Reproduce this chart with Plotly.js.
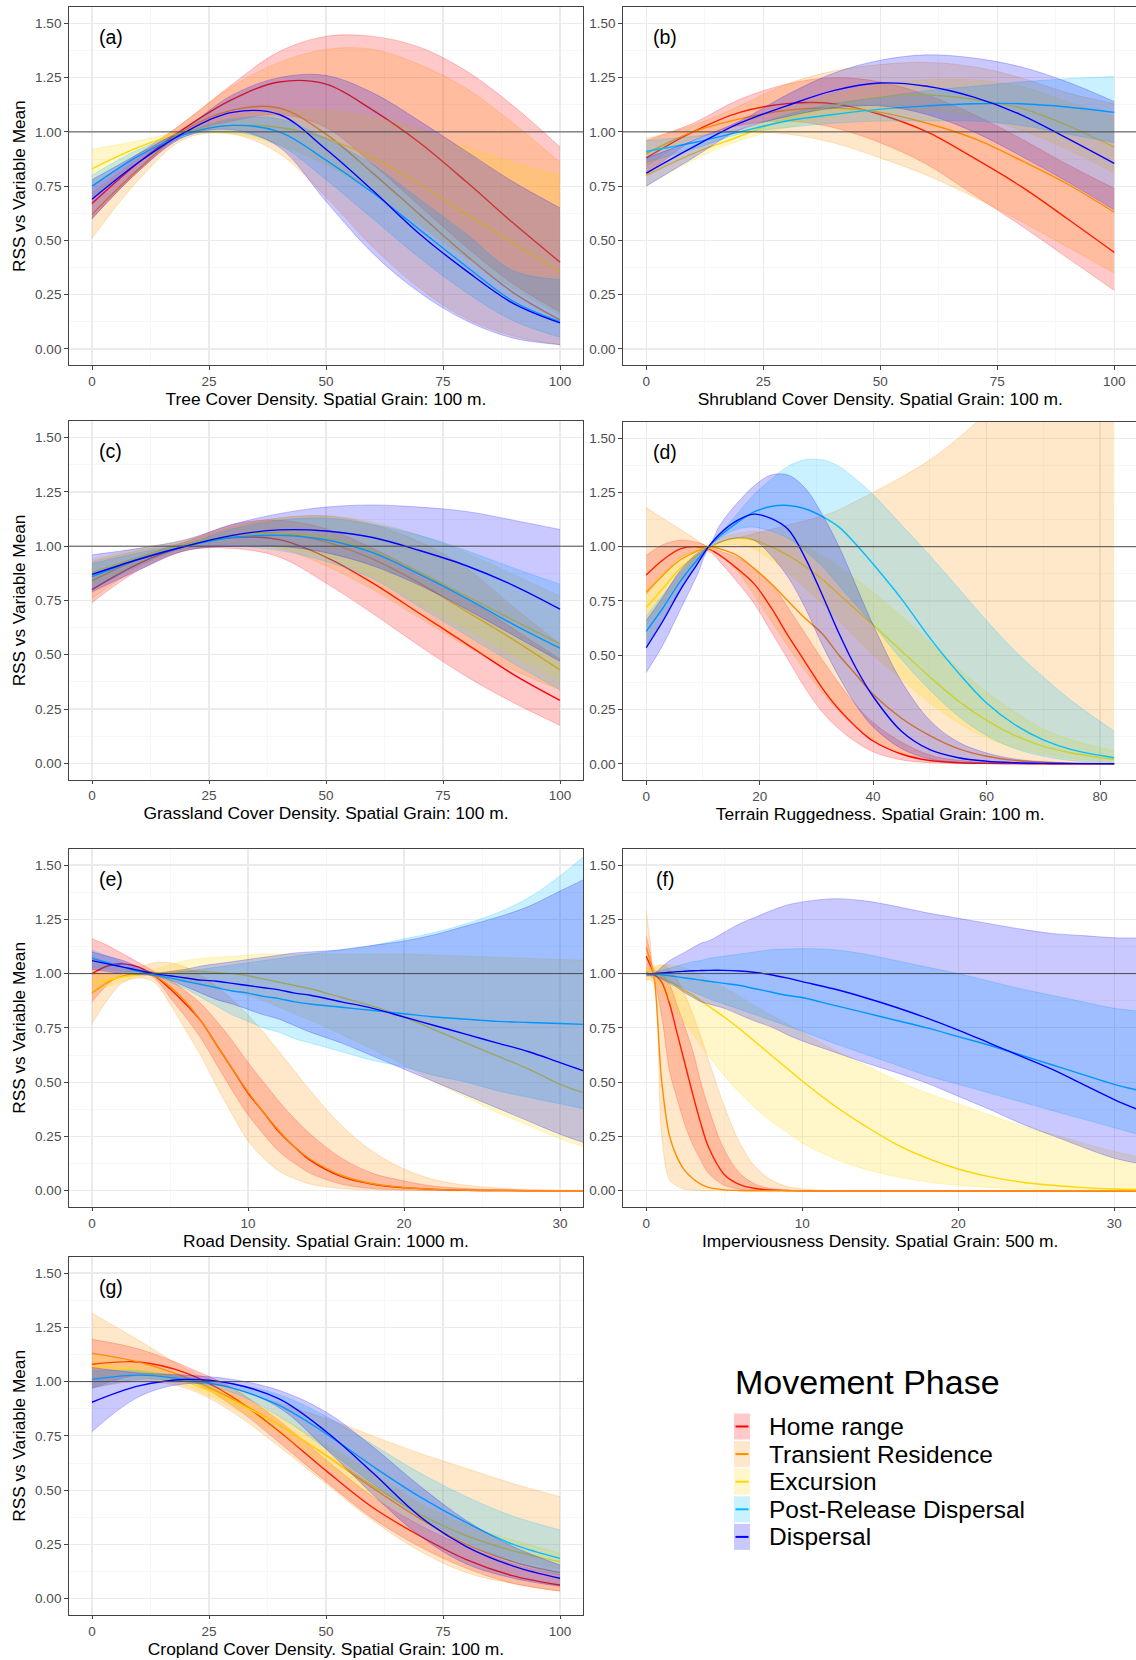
<!DOCTYPE html>
<html>
<head>
<meta charset="utf-8">
<script src="https://cdn.plot.ly/plotly-3.0.1.min.js"></script>
<style>
html,body{margin:0;padding:0;overflow:hidden;background:#fff;}
#chart{width:1140px;height:1660px;}
</style>
</head>
<body>
<div id="chart"></div>
<script>
// ---------------- DATA ----------------
const phaseNames = ['Home range','Transient Residence','Excursion','Post-Release Dispersal','Dispersal'];
const phaseColors = ['#FF0000','#FF8C00','#FFD700','#00BFFF','#0000FF'];
const panelLabels = ['(a)','(b)','(c)','(d)','(e)','(f)','(g)'];
const xTitles = [
  'Tree Cover Density. Spatial Grain: 100 m.',
  'Shrubland Cover Density. Spatial Grain: 100 m.',
  'Grassland Cover Density. Spatial Grain: 100 m.',
  'Terrain Ruggedness. Spatial Grain: 100 m.',
  'Road Density. Spatial Grain: 1000 m.',
  'Imperviousness Density. Spatial Grain: 500 m.',
  'Cropland Cover Density. Spatial Grain: 100 m.'
];
const yTitle = 'RSS vs Variable Mean';
const legendTitle = 'Movement Phase';

// (a) Tree cover
const a_x = [0,10,20,30,40,50,60,70,80,90,100];
const a_HR_mid = [0.67,0.86,1.02,1.15,1.23,1.22,1.10,0.95,0.77,0.58,0.40];
const a_HR_lo  = [0.60,0.82,0.99,1.05,1.08,1.02,0.85,0.66,0.47,0.30,0.17];
const a_HR_hi  = [0.75,0.90,1.05,1.22,1.37,1.44,1.44,1.39,1.28,1.12,0.93];
const a_TR_mid = [0.62,0.83,1.01,1.10,1.11,0.99,0.81,0.62,0.43,0.26,0.134];
const a_TR_lo  = [0.51,0.78,0.97,0.99,0.90,0.70,0.47,0.28,0.14,0.06,0.02];
const a_TR_hi  = [0.72,0.88,1.05,1.21,1.32,1.38,1.38,1.31,1.20,1.04,0.86];
const a_EX_mid = [0.83,0.93,1.00,1.03,1.02,0.97,0.88,0.76,0.62,0.49,0.355];
const a_EX_lo  = [0.74,0.90,0.99,0.99,0.94,0.85,0.72,0.57,0.42,0.28,0.157];
const a_EX_hi  = [0.92,0.96,1.01,1.07,1.10,1.10,1.07,1.01,0.93,0.86,0.80];
const a_PR_mid = [0.75,0.89,0.99,1.03,1.00,0.87,0.72,0.55,0.38,0.22,0.126];
const a_PR_lo  = [0.70,0.86,0.98,1.00,0.94,0.78,0.60,0.42,0.26,0.13,0.054];
const a_PR_hi  = [0.80,0.92,1.00,1.06,1.06,0.97,0.85,0.69,0.53,0.36,0.32];
const a_DI_mid = [0.69,0.86,1.00,1.09,1.08,0.92,0.73,0.53,0.36,0.21,0.12];
const a_DI_lo  = [0.60,0.82,0.98,1.01,0.93,0.68,0.44,0.26,0.13,0.05,0.02];
const a_DI_hi  = [0.78,0.90,1.02,1.17,1.25,1.26,1.18,1.05,0.91,0.77,0.65];

// (b) Shrubland cover
const b_x = [0,10,20,30,40,50,60,70,80,90,100];
const b_HR_mid = [0.88,1.00,1.09,1.13,1.13,1.08,1.00,0.88,0.75,0.60,0.445];
const b_HR_lo  = [0.80,0.96,1.03,1.05,1.02,0.95,0.85,0.71,0.57,0.42,0.27];
const b_HR_hi  = [0.96,1.04,1.15,1.22,1.25,1.23,1.17,1.08,0.97,0.85,0.74];
const b_TR_mid = [0.90,1.00,1.06,1.10,1.11,1.09,1.04,0.97,0.87,0.76,0.63];
const b_TR_lo  = [0.84,0.97,1.00,0.99,0.95,0.88,0.80,0.70,0.59,0.47,0.35];
const b_TR_hi  = [0.97,1.03,1.12,1.22,1.28,1.31,1.32,1.30,1.25,1.18,1.13];
const b_EX_mid = [0.80,0.90,0.98,1.06,1.12,1.16,1.17,1.15,1.11,1.03,0.93];
const b_EX_lo  = [0.75,0.87,0.96,1.02,1.07,1.10,1.10,1.07,1.01,0.92,0.81];
const b_EX_hi  = [0.86,0.93,1.00,1.10,1.17,1.22,1.24,1.24,1.21,1.14,1.07];
const b_PR_mid = [0.91,0.95,1.00,1.05,1.08,1.105,1.12,1.13,1.13,1.115,1.09];
const b_PR_lo  = [0.86,0.92,0.99,1.02,1.04,1.05,1.05,1.05,1.03,0.99,0.95];
const b_PR_hi  = [0.96,0.98,1.01,1.08,1.13,1.16,1.19,1.21,1.23,1.245,1.255];
const b_DI_mid = [0.81,0.93,1.04,1.12,1.19,1.225,1.21,1.16,1.08,0.97,0.855];
const b_DI_lo  = [0.75,0.88,1.01,1.07,1.11,1.12,1.08,1.00,0.89,0.77,0.64];
const b_DI_hi  = [0.88,0.96,1.05,1.17,1.27,1.33,1.355,1.34,1.30,1.23,1.14];

// (c) Grassland cover
const c_x = [0,10,20,30,40,50,60,70,80,90,100];
const c_HR_mid = [0.80,0.92,1.00,1.04,1.03,0.95,0.83,0.69,0.55,0.41,0.29];
const c_HR_lo  = [0.74,0.89,0.98,0.99,0.95,0.83,0.69,0.54,0.40,0.28,0.175];
const c_HR_hi  = [0.87,0.95,1.02,1.10,1.12,1.08,0.99,0.88,0.76,0.62,0.48];
const c_TR_mid = [0.84,0.94,1.00,1.05,1.06,1.02,0.94,0.83,0.70,0.57,0.43];
const c_TR_lo  = [0.76,0.90,0.98,1.01,0.99,0.91,0.80,0.67,0.54,0.43,0.338];
const c_TR_hi  = [0.93,0.98,1.02,1.09,1.13,1.14,1.10,1.02,0.90,0.72,0.55];
const c_EX_mid = [0.88,0.95,1.01,1.05,1.06,1.04,0.98,0.88,0.77,0.66,0.55];
const c_EX_lo  = [0.82,0.91,0.99,1.01,0.99,0.95,0.86,0.74,0.62,0.50,0.39];
const c_EX_hi  = [0.94,0.99,1.03,1.09,1.13,1.14,1.11,1.05,0.97,0.87,0.77];
const c_PR_mid = [0.86,0.94,1.00,1.04,1.05,1.03,0.97,0.87,0.76,0.64,0.53];
const c_PR_lo  = [0.80,0.91,0.99,1.00,0.98,0.93,0.85,0.72,0.59,0.46,0.34];
const c_PR_hi  = [0.92,0.97,1.01,1.08,1.12,1.13,1.10,1.05,0.98,0.90,0.825];
const c_DI_mid = [0.87,0.94,1.00,1.05,1.075,1.07,1.04,0.98,0.91,0.82,0.71];
const c_DI_lo  = [0.79,0.89,0.98,1.00,1.00,0.97,0.91,0.82,0.71,0.59,0.47];
const c_DI_hi  = [0.96,0.99,1.03,1.10,1.15,1.18,1.19,1.18,1.16,1.12,1.077];

// (d) Terrain ruggedness
const d_x = [0,3,6,9,11,13,16,19,22,25,28,31,34,37,40,45,50,55,60,65,70,75,82.5];
const d_HR_mid = [0.87,0.94,0.99,1.00,0.99,0.96,0.90,0.83,0.72,0.59,0.47,0.35,0.25,0.17,0.105,0.045,0.015,0.005,0.002,0.001,0,0,0];
const d_HR_lo  = [0.78,0.87,0.95,0.98,0.98,0.93,0.84,0.74,0.61,0.48,0.35,0.24,0.16,0.10,0.055,0.018,0.005,0.001,0,0,0,0,0];
const d_HR_hi  = [0.96,1.01,1.03,1.02,1.00,0.98,0.95,0.90,0.83,0.72,0.60,0.48,0.37,0.27,0.19,0.10,0.04,0.016,0.006,0.002,0.001,0,0];
const d_TR_mid = [0.79,0.87,0.94,0.98,1.00,0.99,0.96,0.90,0.83,0.75,0.67,0.60,0.50,0.41,0.32,0.21,0.13,0.07,0.035,0.016,0.007,0.003,0.001];
const d_TR_lo  = [0.53,0.67,0.81,0.93,0.99,0.96,0.89,0.78,0.66,0.54,0.43,0.33,0.24,0.17,0.11,0.05,0.02,0.007,0.002,0.001,0,0,0];
const d_TR_hi  = [1.18,1.13,1.08,1.03,1.00,1.02,1.04,1.06,1.08,1.10,1.12,1.14,1.17,1.21,1.25,1.32,1.40,1.50,1.62,1.78,1.96,2.15,2.50];
const d_EX_mid = [0.72,0.81,0.90,0.96,0.99,1.02,1.04,1.03,1.00,0.96,0.91,0.85,0.78,0.71,0.64,0.52,0.40,0.29,0.20,0.13,0.08,0.05,0.02];
const d_EX_lo  = [0.64,0.74,0.85,0.93,0.97,1.00,1.01,0.99,0.94,0.88,0.81,0.74,0.66,0.58,0.50,0.39,0.28,0.19,0.12,0.075,0.045,0.025,0.008];
const d_EX_hi  = [0.80,0.88,0.95,0.99,1.01,1.04,1.06,1.07,1.06,1.04,1.00,0.96,0.91,0.85,0.79,0.68,0.56,0.44,0.33,0.24,0.16,0.11,0.06];
const d_PR_mid = [0.61,0.72,0.84,0.94,1.00,1.05,1.11,1.16,1.185,1.19,1.175,1.14,1.09,1.01,0.92,0.76,0.58,0.42,0.28,0.18,0.11,0.065,0.028];
const d_PR_lo  = [0.55,0.66,0.80,0.92,1.00,1.04,1.08,1.09,1.07,1.04,0.98,0.91,0.82,0.73,0.64,0.48,0.34,0.22,0.13,0.07,0.035,0.015,0.005];
const d_PR_hi  = [0.68,0.78,0.88,0.96,1.00,1.06,1.15,1.24,1.31,1.37,1.40,1.40,1.37,1.31,1.24,1.10,0.96,0.81,0.66,0.52,0.40,0.29,0.15];
const d_DI_mid = [0.535,0.66,0.80,0.92,1.00,1.06,1.12,1.15,1.13,1.08,0.95,0.78,0.60,0.44,0.31,0.15,0.065,0.028,0.012,0.005,0.002,0.001,0];
const d_DI_lo  = [0.42,0.55,0.71,0.87,0.99,1.02,1.04,1.03,0.96,0.86,0.72,0.55,0.40,0.27,0.17,0.07,0.022,0.007,0.002,0.001,0,0,0];
const d_DI_hi  = [0.66,0.77,0.89,0.97,1.00,1.10,1.20,1.28,1.33,1.33,1.27,1.15,1.00,0.82,0.64,0.38,0.20,0.10,0.05,0.022,0.01,0.004,0.001];

// (e) Road density
const e_x = [0,1,2,3,4,5,6,7,8,9,10,11,12,13,14,16,18,20,22,24,26,28,30,32];
const e_HR_mid = [1.00,1.035,1.045,1.03,0.99,0.93,0.86,0.78,0.67,0.56,0.45,0.36,0.27,0.20,0.14,0.065,0.03,0.014,0.006,0.002,0.001,0,0,0];
const e_HR_lo  = [0.87,0.95,1.00,1.01,0.98,0.89,0.80,0.70,0.58,0.46,0.35,0.26,0.18,0.125,0.08,0.03,0.01,0.004,0.001,0,0,0,0,0];
const e_HR_hi  = [1.16,1.13,1.09,1.05,1.01,0.97,0.92,0.86,0.78,0.69,0.59,0.50,0.41,0.33,0.26,0.15,0.08,0.045,0.02,0.01,0.004,0.002,0.001,0];
const e_TR_mid = [0.91,0.96,0.99,1.00,0.99,0.94,0.87,0.78,0.67,0.56,0.455,0.36,0.275,0.20,0.145,0.07,0.032,0.015,0.006,0.002,0.001,0,0,0];
const e_TR_lo  = [0.77,0.88,0.96,0.98,0.96,0.86,0.74,0.62,0.48,0.35,0.23,0.15,0.09,0.055,0.03,0.01,0.003,0.001,0,0,0,0,0,0];
const e_TR_hi  = [1.08,1.05,1.03,1.03,1.05,1.05,1.03,0.99,0.94,0.88,0.81,0.73,0.64,0.55,0.46,0.30,0.18,0.10,0.05,0.025,0.012,0.006,0.003,0.001];
const e_EX_mid = [0.955,0.97,0.985,0.995,1.00,1.005,1.01,1.01,1.005,1.00,0.99,0.975,0.96,0.945,0.93,0.89,0.85,0.80,0.74,0.68,0.62,0.56,0.49,0.44];
const e_EX_lo  = [0.91,0.94,0.965,0.985,0.99,0.97,0.96,0.95,0.94,0.92,0.90,0.875,0.845,0.815,0.785,0.72,0.65,0.58,0.50,0.43,0.36,0.30,0.24,0.19];
const e_EX_hi  = [1.00,1.00,1.005,1.01,1.02,1.04,1.06,1.07,1.075,1.08,1.085,1.09,1.09,1.09,1.09,1.09,1.09,1.09,1.085,1.08,1.075,1.07,1.065,1.06];
const e_PR_mid = [1.07,1.05,1.03,1.01,0.995,0.98,0.965,0.95,0.935,0.92,0.91,0.895,0.885,0.87,0.86,0.845,0.83,0.815,0.80,0.79,0.78,0.775,0.77,0.765];
const e_PR_lo  = [1.03,1.02,1.01,1.00,0.99,0.96,0.93,0.89,0.85,0.81,0.78,0.75,0.73,0.70,0.68,0.64,0.60,0.57,0.53,0.50,0.46,0.43,0.40,0.37];
const e_PR_hi  = [1.11,1.08,1.05,1.02,1.00,1.00,1.01,1.02,1.03,1.04,1.05,1.06,1.07,1.08,1.09,1.11,1.13,1.16,1.19,1.23,1.28,1.35,1.45,1.57];
const e_DI_mid = [1.06,1.045,1.03,1.015,1.00,0.99,0.98,0.97,0.965,0.955,0.945,0.935,0.925,0.91,0.90,0.87,0.84,0.80,0.76,0.72,0.68,0.64,0.59,0.54];
const e_DI_lo  = [1.02,1.01,1.00,0.995,0.99,0.97,0.94,0.91,0.88,0.86,0.835,0.81,0.79,0.76,0.73,0.68,0.62,0.56,0.50,0.44,0.38,0.32,0.26,0.21];
const e_DI_hi  = [1.10,1.08,1.06,1.03,1.005,1.01,1.02,1.035,1.045,1.055,1.065,1.075,1.085,1.095,1.10,1.11,1.13,1.15,1.18,1.22,1.26,1.31,1.38,1.45];

// (f) Imperviousness density
const f_x = [0,0.25,0.5,1,1.5,2,2.5,3,3.5,4,5,6,7,8,9,10,12,14,16,18,20,22,24,26,28,30,32];
const f_HR_mid = [1.08,1.04,1.00,0.96,0.86,0.72,0.58,0.44,0.31,0.20,0.075,0.028,0.01,0.003,0.001,0,0,0,0,0,0,0,0,0,0,0,0];
const f_HR_lo  = [0.99,0.99,0.97,0.80,0.55,0.42,0.30,0.21,0.14,0.08,0.025,0.007,0.002,0,0,0,0,0,0,0,0,0,0,0,0,0,0];
const f_HR_hi  = [1.17,1.10,1.02,1.00,0.95,0.85,0.75,0.64,0.50,0.38,0.19,0.08,0.03,0.01,0.003,0.001,0,0,0,0,0,0,0,0,0,0,0];
const f_TR_mid = [1.12,1.06,0.99,0.50,0.25,0.15,0.09,0.055,0.03,0.015,0.004,0.001,0,0,0,0,0,0,0,0,0,0,0,0,0,0,0];
const f_TR_lo  = [0.97,0.97,0.95,0.25,0.05,0.02,0.006,0.002,0,0,0,0,0,0,0,0,0,0,0,0,0,0,0,0,0,0,0];
const f_TR_hi  = [1.29,1.15,1.03,1.04,1.02,0.97,0.90,0.81,0.71,0.60,0.39,0.22,0.11,0.05,0.02,0.008,0.001,0,0,0,0,0,0,0,0,0,0];
const f_EX_mid = [1.01,1.005,1.00,0.985,0.965,0.945,0.92,0.90,0.875,0.85,0.80,0.745,0.685,0.625,0.565,0.505,0.395,0.30,0.215,0.15,0.10,0.065,0.04,0.025,0.014,0.008,0.005];
const f_EX_lo  = [0.97,0.98,0.97,0.92,0.87,0.82,0.77,0.72,0.67,0.62,0.53,0.45,0.38,0.32,0.27,0.22,0.15,0.10,0.065,0.04,0.025,0.015,0.009,0.005,0.003,0.002,0.001];
const f_EX_hi  = [1.02,1.03,1.035,1.04,1.04,1.035,1.025,1.01,0.99,0.97,0.935,0.895,0.85,0.81,0.77,0.73,0.65,0.58,0.51,0.45,0.40,0.35,0.30,0.26,0.22,0.18,0.15];
const f_PR_mid = [1.00,1.00,1.00,0.995,0.99,0.985,0.98,0.975,0.97,0.965,0.955,0.945,0.93,0.915,0.90,0.89,0.855,0.82,0.785,0.75,0.71,0.67,0.625,0.58,0.535,0.49,0.455];
const f_PR_lo  = [1.00,0.995,0.99,0.975,0.96,0.945,0.93,0.915,0.90,0.885,0.86,0.835,0.81,0.785,0.76,0.735,0.68,0.63,0.58,0.53,0.49,0.45,0.41,0.37,0.33,0.29,0.25];
const f_PR_hi  = [1.00,1.00,1.005,1.015,1.025,1.035,1.045,1.055,1.06,1.07,1.08,1.09,1.10,1.11,1.113,1.115,1.11,1.09,1.06,1.03,1.00,0.965,0.93,0.90,0.87,0.84,0.825];
const f_DI_mid = [1.00,1.00,1.00,1.003,1.006,1.009,1.011,1.013,1.014,1.015,1.015,1.012,1.005,0.995,0.98,0.963,0.93,0.89,0.845,0.795,0.74,0.68,0.62,0.56,0.49,0.42,0.36];
const f_DI_lo  = [0.99,0.99,0.99,0.975,0.955,0.935,0.91,0.89,0.87,0.86,0.84,0.81,0.78,0.755,0.72,0.69,0.64,0.59,0.545,0.495,0.435,0.375,0.31,0.255,0.20,0.15,0.12];
const f_DI_hi  = [1.01,1.00,1.00,1.03,1.06,1.08,1.10,1.12,1.14,1.15,1.19,1.23,1.26,1.29,1.315,1.33,1.345,1.335,1.31,1.28,1.255,1.23,1.205,1.185,1.175,1.165,1.165];

// (g) Cropland cover
const g_x = [0,10,20,30,40,50,60,70,80,90,100];
const g_HR_mid = [1.08,1.09,1.04,0.93,0.77,0.59,0.42,0.29,0.18,0.105,0.063];
const g_HR_lo  = [0.97,1.03,1.01,0.89,0.72,0.54,0.37,0.24,0.14,0.07,0.035];
const g_HR_hi  = [1.195,1.15,1.07,0.97,0.82,0.64,0.47,0.34,0.24,0.16,0.11];
const g_TR_mid = [1.13,1.09,1.02,0.92,0.80,0.66,0.51,0.37,0.25,0.17,0.12];
const g_TR_lo  = [0.97,1.00,0.97,0.86,0.70,0.53,0.36,0.22,0.12,0.07,0.035];
const g_TR_hi  = [1.315,1.19,1.06,0.97,0.90,0.83,0.75,0.67,0.60,0.53,0.47];
const g_EX_mid = [1.07,1.05,1.00,0.91,0.80,0.66,0.52,0.39,0.29,0.22,0.17];
const g_EX_lo  = [1.02,1.02,0.98,0.88,0.76,0.61,0.47,0.35,0.25,0.18,0.138];
const g_EX_hi  = [1.12,1.08,1.02,0.94,0.84,0.71,0.58,0.44,0.34,0.27,0.21];
const g_PR_mid = [1.01,1.03,1.01,0.97,0.89,0.76,0.61,0.47,0.35,0.25,0.186];
const g_PR_lo  = [0.97,1.01,1.00,0.95,0.84,0.69,0.53,0.38,0.26,0.17,0.11];
const g_PR_hi  = [1.05,1.05,1.02,0.99,0.94,0.84,0.71,0.58,0.47,0.38,0.317];
const g_DI_mid = [0.905,0.98,1.01,0.99,0.92,0.77,0.58,0.38,0.24,0.15,0.094];
const g_DI_lo  = [0.77,0.93,0.99,0.97,0.88,0.69,0.48,0.29,0.16,0.094,0.057];
const g_DI_hi  = [1.065,1.04,1.03,1.01,0.96,0.86,0.70,0.52,0.36,0.24,0.155];

// ---------------- TABLE FOR THE LIBRARY ----------------
const W = 1140, H = 1660;
const FONT = 'Liberation Sans, Arial, Helvetica, sans-serif';
const YPX = 217.1;               // pixels per y unit
const COLS = [[68.6, 583.4], [622.8, 1137.6]];

const panels = [
  {x:a_x, s:[[a_HR_lo,a_HR_mid,a_HR_hi],[a_TR_lo,a_TR_mid,a_TR_hi],[a_EX_lo,a_EX_mid,a_EX_hi],[a_PR_lo,a_PR_mid,a_PR_hi],[a_DI_lo,a_DI_mid,a_DI_hi]], col:0, zeroPx:349.0, range:[-5,105], dtick:25},
  {x:b_x, s:[[b_HR_lo,b_HR_mid,b_HR_hi],[b_TR_lo,b_TR_mid,b_TR_hi],[b_EX_lo,b_EX_mid,b_EX_hi],[b_PR_lo,b_PR_mid,b_PR_hi],[b_DI_lo,b_DI_mid,b_DI_hi]], col:1, zeroPx:349.0, range:[-5,105], dtick:25},
  {x:c_x, s:[[c_HR_lo,c_HR_mid,c_HR_hi],[c_TR_lo,c_TR_mid,c_TR_hi],[c_EX_lo,c_EX_mid,c_EX_hi],[c_PR_lo,c_PR_mid,c_PR_hi],[c_DI_lo,c_DI_mid,c_DI_hi]], col:0, zeroPx:763.3, range:[-5,105], dtick:25},
  {x:d_x, s:[[d_HR_lo,d_HR_mid,d_HR_hi],[d_TR_lo,d_TR_mid,d_TR_hi],[d_EX_lo,d_EX_mid,d_EX_hi],[d_PR_lo,d_PR_mid,d_PR_hi],[d_DI_lo,d_DI_mid,d_DI_hi]], col:1, zeroPx:763.8, range:[-4.125,86.625], dtick:20},
  {x:e_x, s:[[e_HR_lo,e_HR_mid,e_HR_hi],[e_TR_lo,e_TR_mid,e_TR_hi],[e_EX_lo,e_EX_mid,e_EX_hi],[e_PR_lo,e_PR_mid,e_PR_hi],[e_DI_lo,e_DI_mid,e_DI_hi]], col:0, zeroPx:1190.7, range:[-1.5,31.5], dtick:10},
  {x:f_x, s:[[f_HR_lo,f_HR_mid,f_HR_hi],[f_TR_lo,f_TR_mid,f_TR_hi],[f_EX_lo,f_EX_mid,f_EX_hi],[f_PR_lo,f_PR_mid,f_PR_hi],[f_DI_lo,f_DI_mid,f_DI_hi]], col:1, zeroPx:1190.7, range:[-1.5,31.5], dtick:10},
  {x:g_x, s:[[g_HR_lo,g_HR_mid,g_HR_hi],[g_TR_lo,g_TR_mid,g_TR_hi],[g_EX_lo,g_EX_mid,g_EX_hi],[g_PR_lo,g_PR_mid,g_PR_hi],[g_DI_lo,g_DI_mid,g_DI_hi]], col:0, zeroPx:1598.7, range:[-5,105], dtick:25}
];

function rgba(hex, a) {
  const n = parseInt(hex.slice(1), 16);
  return 'rgba(' + ((n >> 16) & 255) + ',' + ((n >> 8) & 255) + ',' + (n & 255) + ',' + a + ')';
}

const traces = [];
const layout = {
  width: W, height: H,
  margin: {l:0, r:0, t:0, b:0},
  paper_bgcolor: '#ffffff', plot_bgcolor: '#ffffff',
  showlegend: false,
  font: {family: FONT, color: '#000'},
  shapes: [], annotations: []
};

panels.forEach((p, i) => {
  const sfx = i === 0 ? '' : String(i + 1);
  const xa = 'x' + sfx, ya = 'y' + sfx;
  const topPx = p.zeroPx - 1.575 * YPX, botPx = p.zeroPx + 0.075 * YPX;
  const colPx = COLS[p.col];

  p.s.forEach((trip, j) => {
    const col = phaseColors[j];
    const edge = {color: rgba(col, 0.45), width: 0.5, shape: 'spline', smoothing: 1};
    traces.push({x: p.x, y: trip[0], xaxis: xa, yaxis: ya, type: 'scatter', mode: 'lines',
      line: edge, hoverinfo: 'skip', showlegend: false, name: phaseNames[j] + ' lower'});
    traces.push({x: p.x, y: trip[2], xaxis: xa, yaxis: ya, type: 'scatter', mode: 'lines',
      line: edge, fill: 'tonexty', fillcolor: rgba(col, 0.21), hoverinfo: 'skip', showlegend: false,
      name: phaseNames[j] + ' upper'});
    traces.push({x: p.x, y: trip[1], xaxis: xa, yaxis: ya, type: 'scatter', mode: 'lines',
      line: {color: col, width: 1.4, shape: 'spline', smoothing: 1}, name: phaseNames[j], showlegend: false});
  });

  const common = {
    showline: true, mirror: true, linecolor: '#444444', linewidth: 1,
    ticks: 'outside', ticklen: 3.5, tickcolor: '#444444', tickwidth: 1,
    showgrid: true, gridcolor: '#ebebeb', gridwidth: 1.2, zeroline: false,
    tickfont: {family: FONT, size: 13.5, color: '#4d4d4d'}, fixedrange: true
  };
  layout['xaxis' + sfx] = Object.assign({}, common, {
    domain: [colPx[0] / W, colPx[1] / W], range: p.range, anchor: ya,
    tickmode: 'linear', tick0: 0, dtick: p.dtick,
    minor: {tickmode: 'linear', tick0: p.dtick / 2, dtick: p.dtick, showgrid: true, gridcolor: '#f2f2f2', gridwidth: 0.6},
    title: {text: xTitles[i], font: {family: FONT, size: 17.4, color: '#000'}, standoff: 2}
  });
  const yax = Object.assign({}, common, {
    domain: [1 - botPx / H, 1 - topPx / H], range: [-0.075, 1.575], anchor: xa,
    tickmode: 'linear', tick0: 0, dtick: 0.25, tickformat: '.2f',
    minor: {tickmode: 'linear', tick0: 0.125, dtick: 0.25, showgrid: true, gridcolor: '#f2f2f2', gridwidth: 0.6}
  });
  if (p.col === 0) yax.title = {text: yTitle, font: {family: FONT, size: 17.2, color: '#000'}, standoff: 5};
  layout['yaxis' + sfx] = yax;

  layout.shapes.push({type: 'line', xref: xa + ' domain', yref: ya, x0: 0, x1: 1, y0: 1, y1: 1,
    line: {color: '#4a4a4a', width: 1}, layer: 'above'});
  layout.annotations.push({text: panelLabels[i], xref: xa + ' domain', yref: ya + ' domain',
    x: 42 / 514.8, y: 1 - 30 / 358.2, xanchor: 'center', yanchor: 'middle', showarrow: false,
    font: {family: FONT, size: 19.5, color: '#000'}});
});

// Legend (drawn in paper space)
layout.annotations.push({text: legendTitle, xref: 'paper', yref: 'paper', x: 733 / W, y: 1 - 1381.7 / H,
  xanchor: 'left', yanchor: 'middle', showarrow: false, font: {family: FONT, size: 34, color: '#000'}});
phaseNames.forEach((nm, j) => {
  const cy = 1426.5 + j * 27.6;
  layout.shapes.push({type: 'rect', xref: 'paper', yref: 'paper', x0: 734 / W, x1: 750 / W,
    y0: 1 - (cy + 13) / H, y1: 1 - (cy - 13) / H, fillcolor: rgba(phaseColors[j], 0.21), line: {width: 0}});
  layout.shapes.push({type: 'line', xref: 'paper', yref: 'paper', x0: 735.5 / W, x1: 748.5 / W,
    y0: 1 - cy / H, y1: 1 - cy / H, line: {color: phaseColors[j], width: 2}});
  layout.annotations.push({text: nm, xref: 'paper', yref: 'paper', x: 767 / W, y: 1 - cy / H,
    xanchor: 'left', yanchor: 'middle', showarrow: false, font: {family: FONT, size: 24.5, color: '#000'}});
});

Plotly.newPlot('chart', traces, layout, {staticPlot: true, displayModeBar: false});
</script>
</body>
</html>
